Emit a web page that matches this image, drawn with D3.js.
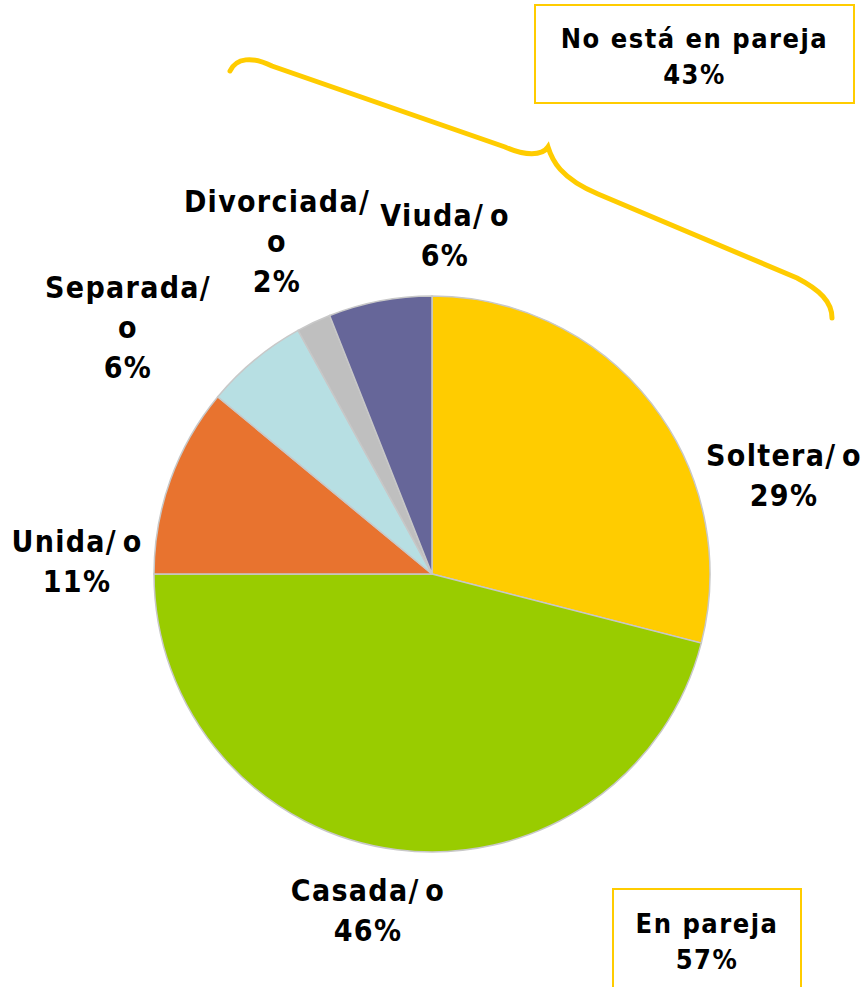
<!DOCTYPE html>
<html lang="es">
<head>
<meta charset="UTF-8">
<title>Estado civil</title>
<script src="https://cdn.jsdelivr.net/npm/d3@7"></script>
<style>
  body { margin: 0; background: #fff; }
  text { font-family: "DejaVu Sans Condensed", "DejaVu Sans", sans-serif; font-weight: bold; fill: #000; }
</style>
</head>
<body>
<svg width="862" height="987"></svg>
<script>
// data
var categories = ["Soltera/ o", "Casada/ o", "Unida/ o", "Separada/ o", "Divorciada/ o", "Viuda/ o"];
var values = [29, 46, 11, 6, 2, 6];
var colors = ["#ffcc00", "#99cc00", "#e8732f", "#b7dfe3", "#bfbfbf", "#666699"];
var groups = ["No está en pareja", "En pareja"];
var groupValues = [43, 57];

var svg = d3.select("svg"),
    cx = 432, cy = 574, r = 278;

var g = svg.append("g").attr("transform", "translate(" + cx + "," + cy + ")");

var pie = d3.pie().sort(null).value(function(d) { return d; });
var arc = d3.arc().innerRadius(0).outerRadius(r);
var arcs = pie(values);

g.selectAll("path.slice")
    .data(arcs)
    .enter()
    .append("path")
    .attr("class", "slice")
    .attr("d", arc)
    .attr("fill", function(d, i) { return colors[i]; })
    .attr("stroke", "#c8c8c8")
    .attr("stroke-width", 1.5);

// label layout: centre x, first baseline, line breaks
var labelLayout = [
    {x: 784, y: 466, lines: ["Soltera/ o"]},
    {x: 368, y: 901, lines: ["Casada/ o"]},
    {x: 77,  y: 552, lines: ["Unida/ o"]},
    {x: 128, y: 298, lines: ["Separada/", "o"]},
    {x: 277, y: 212, lines: ["Divorciada/", "o"]},
    {x: 445, y: 226, lines: ["Viuda/ o"]}
];

arcs.forEach(function(a, i) {
    var L = labelLayout[i];
    var t = svg.append("text")
        .attr("text-anchor", "middle")
        .style("font-size", "30px")
        .style("letter-spacing", "1.3px")
        .style("word-spacing", "-5px");
    var lines = L.lines.concat([values[i] + "%"]);
    lines.forEach(function(s, j) {
        t.append("tspan")
            .attr("x", L.x)
            .attr("y", L.y + j * 40)
            .text(s);
    });
});

// group boxes
var boxLayout = [
    {x: 535, y: 5, w: 319, h: 98, ty: 48},
    {x: 613, y: 889, w: 188, h: 120, ty: 933}
];
groups.forEach(function(name, i) {
    var b = boxLayout[i];
    svg.append("rect")
        .attr("x", b.x).attr("y", b.y)
        .attr("width", b.w).attr("height", b.h)
        .attr("fill", "#fff")
        .attr("stroke", "#ffcc00")
        .attr("stroke-width", 2);
    var t = svg.append("text")
        .attr("text-anchor", "middle")
        .style("font-size", "27px")
        .style("letter-spacing", "1.5px");
    [name, groupValues[i] + "%"].forEach(function(s, j) {
        t.append("tspan")
            .attr("x", b.x + b.w / 2)
            .attr("y", b.ty + j * 36)
            .text(s);
    });
});

// curly brace over "No está en pareja" slices
var brace = d3.path();
brace.moveTo(230, 71);
brace.bezierCurveTo(236, 58, 252, 56, 272, 66);
brace.lineTo(505, 147);
brace.bezierCurveTo(525, 156, 542, 156, 548, 147);
brace.bezierCurveTo(552, 160, 560, 178, 598, 194);
brace.lineTo(797, 278);
brace.bezierCurveTo(820, 290, 832, 302, 832, 318);
svg.append("path")
    .attr("d", brace.toString())
    .attr("fill", "none")
    .attr("stroke", "#ffcc00")
    .attr("stroke-width", 5)
    .attr("stroke-linecap", "round");
</script>
</body>
</html>
